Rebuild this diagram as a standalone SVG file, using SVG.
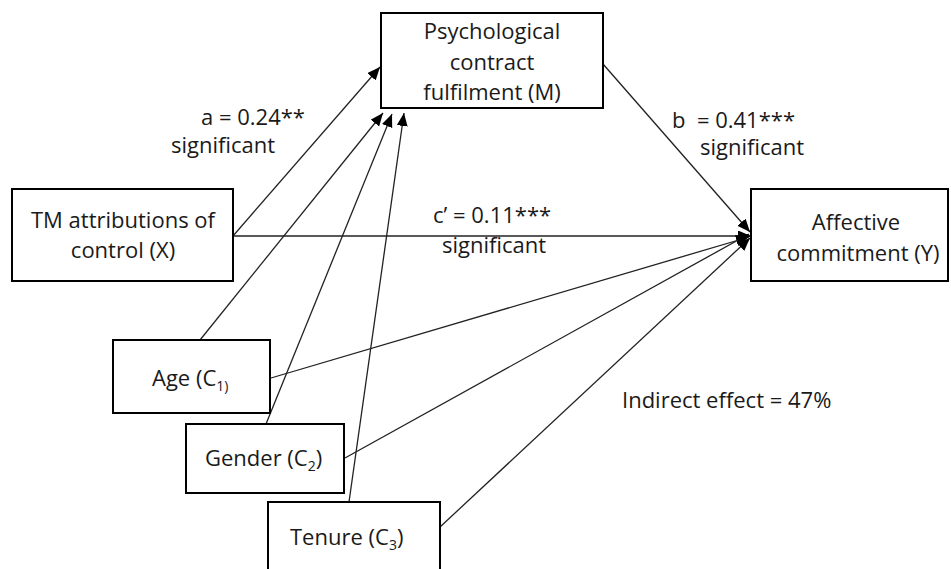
<svg xmlns="http://www.w3.org/2000/svg" width="951" height="569" viewBox="0 0 951 569">
<defs>
<style>
.box{fill:#fff;stroke:#000;stroke-width:2}
.t{font-family:"Open Sans","Liberation Sans",sans-serif;font-size:22px;fill:#1a1a1a}
.c{text-anchor:middle}
.ln{stroke:#222;stroke-width:1.3;fill:none}
.sub{font-size:14px}
</style>
<marker id="ah" markerUnits="userSpaceOnUse" markerWidth="14" markerHeight="12" refX="13" refY="5.5" orient="auto">
<path d="M0,0 L13,5.5 L0,11 z" fill="#000"/>
</marker>
</defs>
<rect width="951" height="569" fill="#fff"/>
<g id="connectors">
<line class="ln" x1="233" y1="236" x2="380" y2="67" marker-end="url(#ah)"/>
<line class="ln" x1="200" y1="340" x2="383" y2="113" marker-end="url(#ah)"/>
<line class="ln" x1="266" y1="424" x2="392" y2="114" marker-end="url(#ah)"/>
<line class="ln" x1="349" y1="502" x2="404" y2="113" marker-end="url(#ah)"/>
<line class="ln" x1="233" y1="236" x2="751" y2="236" marker-end="url(#ah)"/>
<line class="ln" x1="603" y1="64" x2="750" y2="232" marker-end="url(#ah)"/>
<line class="ln" x1="271" y1="378" x2="749" y2="237" marker-end="url(#ah)"/>
<line class="ln" x1="345" y1="458" x2="749" y2="234" marker-end="url(#ah)"/>
<line class="ln" x1="440" y1="527" x2="750" y2="238" marker-end="url(#ah)"/>
</g>
<g id="node-M">
<rect class="box" x="381" y="13" width="222" height="95"/>
<text class="t c" x="492" y="39">Psychological</text>
<text class="t c" x="492" y="70">contract</text>
<text class="t c" x="492" y="100">fulfilment (M)</text>
</g>
<g id="node-X">
<rect class="box" x="12" y="189" width="221" height="92"/>
<text class="t c" x="123" y="228">TM attributions of</text>
<text class="t c" x="123" y="258">control (X)</text>
</g>
<g id="node-Y">
<rect class="box" x="751" y="189" width="197" height="92"/>
<text class="t c" x="856" y="230">Affective</text>
<text class="t c" x="858" y="261">commitment (Y)</text>
</g>
<g id="node-age">
<rect class="box" x="113" y="340" width="157" height="73"/>
<text class="t" x="152" y="386">Age (C<tspan class="sub" dy="5">1)</tspan></text>
</g>
<g id="node-gender">
<rect class="box" x="186" y="424" width="158" height="69"/>
<text class="t" x="205" y="466">Gender (C<tspan class="sub" dy="5">2</tspan><tspan dy="-5">)</tspan></text>
</g>
<g id="node-tenure">
<rect class="box" x="268" y="502" width="172" height="75"/>
<text class="t" x="290" y="545">Tenure (C<tspan class="sub" dy="5">3</tspan><tspan dy="-5">)</tspan></text>
</g>
<g id="labels">
<text class="t" x="201" y="125">a = 0.24**</text>
<text class="t" x="275" y="153" text-anchor="end">significant</text>
<text class="t" x="672" y="128" style="white-space:pre">b  = 0.41***</text>
<text class="t" x="700" y="155">significant</text>
<text class="t" x="433" y="223">c’ = 0.11***</text>
<text class="t" x="442" y="253">significant</text>
<text class="t" x="622" y="408">Indirect effect = 47%</text>
</g>
</svg>
